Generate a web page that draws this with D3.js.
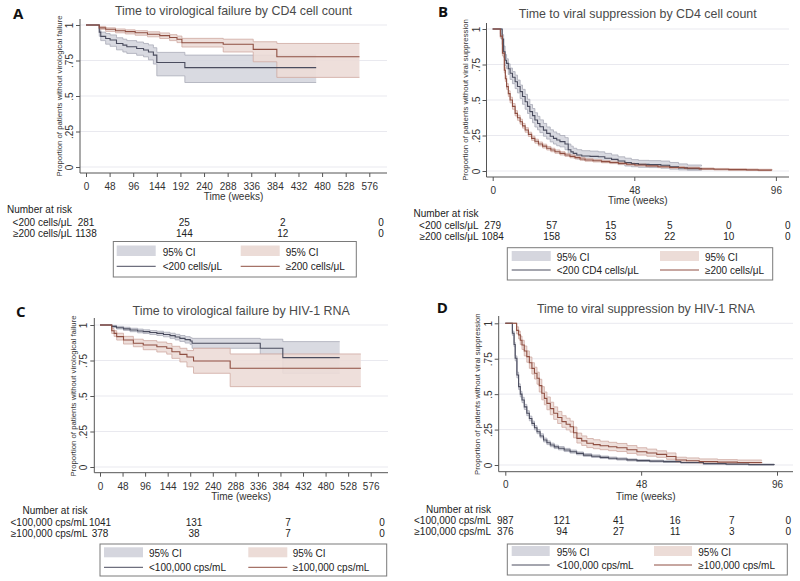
<!DOCTYPE html>
<html><head><meta charset="utf-8">
<script src="https://cdn.jsdelivr.net/npm/d3@7"></script>
<style>body{margin:0;background:#fff}svg{display:block}</style>
</head><body><svg id="c" width="800" height="581"></svg>
<script>
// ---------- DATA: [time, survival, lower95, upper95] ----------
const A_lt200 = [[0,1,1,1],[27,0.95,0.92,0.97],[30,0.92,0.89,0.95],[40,0.905,0.865,0.94],[49,0.894,0.85,0.93],[62,0.87,0.825,0.91],[75,0.858,0.81,0.9],[83,0.847,0.8,0.89],[103,0.835,0.787,0.88],[117,0.824,0.776,0.87],[127,0.81,0.755,0.86],[137,0.788,0.725,0.84],[144,0.736,0.642,0.807],[201,0.7,0.595,0.788],[468,0.7,0.595,0.788]];
const A_ge200 = [[0,1,1,1],[27,0.98,0.97,0.99],[40,0.97,0.955,0.98],[60,0.96,0.945,0.972],[80,0.953,0.937,0.966],[100,0.945,0.928,0.96],[125,0.935,0.917,0.952],[150,0.925,0.905,0.944],[170,0.912,0.89,0.932],[185,0.9,0.876,0.922],[195,0.875,0.845,0.906],[279,0.864,0.81,0.9],[340,0.828,0.741,0.882],[388,0.776,0.631,0.87],[556,0.776,0.631,0.87]];
const B_lt200 = [[0,1,1,1],[3.2,0.93,0.89,0.96],[3.7,0.84,0.8,0.88],[4.2,0.78,0.74,0.82],[4.7,0.758,0.72,0.79],[5.3,0.72,0.68,0.755],[5.9,0.688,0.645,0.725],[6.7,0.66,0.615,0.7],[7.6,0.629,0.58,0.675],[8.4,0.595,0.55,0.64],[9.3,0.559,0.51,0.605],[10.1,0.525,0.47,0.575],[11,0.488,0.435,0.54],[11.8,0.455,0.405,0.505],[12.6,0.418,0.37,0.468],[13.5,0.39,0.34,0.44],[14.3,0.359,0.31,0.41],[15.2,0.335,0.29,0.385],[16,0.312,0.27,0.36],[17.2,0.288,0.245,0.335],[18.3,0.265,0.225,0.31],[19.5,0.245,0.205,0.29],[20.6,0.23,0.19,0.275],[21.7,0.218,0.178,0.262],[22.8,0.207,0.17,0.25],[24.5,0.19,0.15,0.235],[25.6,0.15,0.12,0.19],[26.5,0.135,0.105,0.175],[27.3,0.124,0.093,0.16],[28.5,0.113,0.085,0.15],[30.2,0.106,0.078,0.143],[33,0.103,0.075,0.14],[35.8,0.1,0.072,0.135],[38,0.09,0.062,0.124],[40.3,0.082,0.054,0.113],[42.5,0.07,0.045,0.1],[44.8,0.059,0.035,0.09],[47,0.052,0.03,0.08],[49.4,0.047,0.026,0.075],[53,0.045,0.024,0.073],[57,0.04,0.02,0.07],[60,0.03,0.013,0.06],[63,0.022,0.008,0.05],[66,0.017,0.005,0.042],[70.8,0.012,0.003,0.035]];
const B_ge200 = [[0,1,1,1],[2.6,0.95,0.935,0.965],[3.3,0.83,0.81,0.85],[3.95,0.71,0.69,0.73],[4.3,0.65,0.63,0.67],[4.7,0.594,0.575,0.615],[5.3,0.545,0.525,0.565],[5.9,0.5,0.48,0.52],[6.7,0.455,0.435,0.475],[7.6,0.406,0.388,0.425],[8.4,0.375,0.357,0.393],[9.3,0.347,0.33,0.365],[10.1,0.318,0.302,0.335],[11,0.289,0.273,0.305],[12.1,0.258,0.243,0.273],[13.2,0.23,0.216,0.245],[14.3,0.21,0.196,0.224],[15.5,0.19,0.177,0.204],[16.9,0.175,0.162,0.189],[18.3,0.16,0.148,0.173],[19.7,0.148,0.136,0.16],[21.1,0.136,0.125,0.148],[22.8,0.124,0.113,0.136],[24.5,0.113,0.103,0.124],[26.2,0.103,0.093,0.114],[27.9,0.094,0.085,0.104],[29.6,0.085,0.076,0.095],[31.3,0.077,0.069,0.087],[34,0.072,0.064,0.081],[36.9,0.066,0.058,0.075],[39.7,0.06,0.052,0.069],[42.6,0.054,0.047,0.062],[45.4,0.048,0.041,0.056],[48.2,0.042,0.035,0.05],[52,0.036,0.03,0.044],[56,0.03,0.024,0.037],[60,0.025,0.019,0.032],[65,0.02,0.015,0.027],[70,0.015,0.01,0.021],[75,0.012,0.007,0.018],[80,0.01,0.005,0.016],[86,0.008,0.004,0.014],[90,0.006,0.002,0.012],[94.6,0.005,0.001,0.01]];
const C_lt100k = [[0,1,1,1],[25,0.99,0.983,0.997],[35,0.981,0.972,0.99],[50,0.973,0.962,0.984],[64,0.965,0.953,0.977],[80,0.958,0.945,0.971],[92,0.953,0.94,0.966],[106,0.947,0.933,0.961],[121,0.941,0.926,0.956],[135,0.933,0.917,0.949],[149,0.925,0.906,0.942],[160,0.915,0.895,0.934],[170,0.906,0.884,0.926],[181,0.897,0.873,0.918],[192,0.887,0.862,0.91],[196,0.871,0.836,0.906],[341,0.836,0.793,0.9],[389,0.77,0.66,0.883],[510,0.77,0.66,0.883]];
const C_ge100k = [[0,1,1,1],[25,0.96,0.94,0.975],[30,0.941,0.92,0.96],[35.5,0.918,0.894,0.942],[50,0.894,0.866,0.92],[71,0.871,0.847,0.9],[92,0.859,0.826,0.89],[121,0.847,0.81,0.88],[142,0.836,0.795,0.87],[153,0.812,0.765,0.85],[170,0.793,0.74,0.836],[185,0.775,0.705,0.82],[199,0.746,0.66,0.836],[277,0.695,0.566,0.796],[555,0.695,0.566,0.796]];
const D_lt100k = [[0,1,1,1],[2.5,0.93,0.915,0.945],[3.1,0.85,0.835,0.865],[3.5,0.753,0.735,0.77],[4.1,0.635,0.615,0.655],[4.7,0.553,0.533,0.573],[5.3,0.5,0.48,0.52],[5.9,0.459,0.44,0.478],[6.7,0.41,0.392,0.428],[7.6,0.365,0.348,0.383],[8.5,0.328,0.312,0.345],[9.4,0.294,0.278,0.31],[10.3,0.263,0.248,0.278],[11.2,0.235,0.221,0.25],[12.3,0.205,0.192,0.22],[13.5,0.176,0.163,0.19],[14.7,0.157,0.144,0.17],[15.9,0.141,0.129,0.154],[17.3,0.128,0.116,0.14],[18.8,0.118,0.107,0.13],[20.8,0.106,0.095,0.117],[22.9,0.094,0.084,0.105],[25.2,0.082,0.072,0.092],[27.6,0.07,0.061,0.08],[30.5,0.062,0.053,0.071],[33.5,0.054,0.046,0.063],[36.5,0.048,0.04,0.056],[39.4,0.042,0.035,0.05],[43,0.036,0.029,0.043],[46.5,0.031,0.025,0.038],[51,0.027,0.021,0.034],[55.9,0.024,0.018,0.03],[62,0.018,0.012,0.024],[70,0.01,0.005,0.016],[78,0.006,0.002,0.011],[86,0.003,0,0.007],[95,0.001,0,0.003]];
const D_ge100k = [[0,1,1,1],[4,0.95,0.925,0.975],[4.7,0.918,0.89,0.945],[5.3,0.88,0.85,0.91],[5.9,0.847,0.815,0.88],[6.7,0.805,0.77,0.84],[7.6,0.765,0.725,0.805],[8.5,0.722,0.682,0.762],[9.4,0.682,0.642,0.722],[10.3,0.648,0.607,0.69],[11.2,0.612,0.57,0.655],[12,0.56,0.515,0.605],[12.9,0.506,0.46,0.553],[13.8,0.47,0.425,0.515],[14.7,0.435,0.39,0.48],[15.9,0.398,0.355,0.443],[17.1,0.365,0.322,0.41],[18.5,0.335,0.293,0.378],[20,0.306,0.266,0.348],[21.5,0.288,0.248,0.33],[22.9,0.27,0.232,0.31],[24.1,0.228,0.192,0.268],[25.3,0.188,0.155,0.225],[27,0.17,0.138,0.205],[28.8,0.153,0.123,0.187],[31.1,0.144,0.115,0.178],[33.5,0.136,0.108,0.168],[36.5,0.129,0.101,0.16],[39.4,0.122,0.095,0.152],[43,0.108,0.082,0.137],[46.5,0.094,0.07,0.122],[50,0.085,0.062,0.112],[53.5,0.075,0.054,0.1],[57,0.06,0.04,0.085],[60.3,0.035,0.02,0.055],[64,0.03,0.016,0.05],[68.5,0.024,0.012,0.043],[75,0.02,0.009,0.038],[82,0.018,0.007,0.035],[90.6,0.016,0.006,0.032]];

// at-risk tables
const riskTimesLong = [0, 200, 400, 600];
const riskTimesShort = [0, 20, 40, 60, 80, 100];
const A_riskLt = [281, 25, 2, 0];
const A_riskGe = [1138, 144, 12, 0];
const B_riskLt = [279, 57, 15, 5, 0, 0];
const B_riskGe = [1084, 158, 53, 22, 10, 0];
const C_riskLt = [1041, 131, 7, 0];
const C_riskGe = [378, 38, 7, 0];
const D_riskLt = [987, 121, 41, 16, 7, 0];
const D_riskGe = [376, 94, 27, 11, 3, 0];

// ticks and labels
const xTicksLong = [0,48,96,144,192,240,288,336,384,432,480,528,576];
const xTicksShort = [0,48,96];
const yTickValues = [0,0.25,0.5,0.75,1];
const yTickLabels = ["0",".25",".5",".75","1"];
const titles = ["Time to virological failure by CD4 cell count","Time to viral suppression by CD4 cell count","Time to virological failure by HIV-1 RNA","Time to viral suppression by HIV-1 RNA"];
const yTitles = ["Proportion of patients without virological failure","Proportion of patients without viral suppression"];
const cd4Groups = ["<200 cells/μL","≥200 cells/μL"];
const cd4LegendB = ["<200 CD4 cells/μL","≥200 cells/μL"];
const rnaGroups = ["<100,000 cps/mL","≥100,000 cps/mL"];

// ---------- STYLE ----------
const FONT = "'Liberation Sans', Arial, Helvetica, sans-serif";
const COL = {
  darkLine:"#4a4c5e", darkBand:"#d5d6de", darkEdge:"#a9abb8",
  brownLine:"#8f4f42", brownBand:"#ecdcd7", brownEdge:"#cfaaa1",
  grid:"#e9e9ef", axis:"#555", text:"#333", title:"#4a4a4a"
};

const panels = [
 {data:[A_lt200,A_ge200], xMax:576, xr:[86,369.3], yr:[167,25], axisX:80, axisY:173, topY:19, rightX:387,
  label:"A", lx:13, ly:18.7, title:titles[0], titleY:15, yTitle:yTitles[0], xTicks:xTicksLong,
  riskT:riskTimesLong, risk:[A_riskLt,A_riskGe], rowNames:cd4Groups, legNames:cd4Groups,
  tickBase:190, xTitleBase:200, narBase:213, row1:225.5, row2:236.5, narRight:72,
  leg:{x:113.3,y:241.5,w:243,h:35.5,s1:116.7,s2:240.7,sy:245.5,sw:39,sh:10.5,t1:162.7,t2:285.7,rb1:256,ly:266.3,rb2:269.8}},
 {data:[B_lt200,B_ge200], xMax:96, xr:[492.7,775.9], yr:[171,29], axisX:486.5, axisY:177, topY:23, rightX:789,
  label:"B", lx:438, ly:16.7, title:titles[1], titleY:18.3, yTitle:yTitles[1], xTicks:xTicksShort,
  riskT:riskTimesShort, risk:[B_riskLt,B_riskGe], rowNames:cd4Groups, legNames:cd4LegendB,
  tickBase:193.5, xTitleBase:204, narBase:216.5, row1:229, row2:240, narRight:478.5,
  leg:{x:507.3,y:247.7,w:265.4,h:32.3,s1:511.7,s2:660,sy:251,sw:39,sh:10,t1:556.7,t2:705,rb1:260.5,ly:270,rb2:273.5}},
 {data:[C_lt100k,C_ge100k], xMax:576, xr:[100,370.7], yr:[467,325], axisX:94.3, axisY:472.7, topY:318, rightX:388,
  label:"C", lx:16, ly:317, title:titles[2], titleY:315, yTitle:yTitles[0], xTicks:xTicksLong,
  riskT:riskTimesLong, risk:[C_riskLt,C_riskGe], rowNames:rnaGroups, legNames:rnaGroups,
  tickBase:490, xTitleBase:500, narBase:514, row1:525.5, row2:536.5, narRight:87.5,
  leg:{x:100,y:544,w:286.7,h:32,s1:104,s2:248.3,sy:547.3,sw:39,sh:10,t1:149,t2:292.7,rb1:556.8,ly:567.3,rb2:570.7}},
 {data:[D_lt100k,D_ge100k], xMax:96, xr:[505.3,777], yr:[465,323.3], axisX:498.7, axisY:471.7, topY:316, rightX:793,
  label:"D", lx:436.7, ly:313, title:titles[3], titleY:312.7, yTitle:yTitles[1], xTicks:xTicksShort,
  riskT:riskTimesShort, risk:[D_riskLt,D_riskGe], rowNames:rnaGroups, legNames:rnaGroups,
  tickBase:488.5, xTitleBase:499.5, narBase:513, row1:524, row2:535, narRight:491,
  leg:{x:507.3,y:544,w:280,h:31,s1:511.7,s2:654,sy:546,sw:38,sh:10,t1:556.7,t2:698.3,rb1:555.5,ly:565,rb2:569}}
];

const svg = d3.select("#c").style("font-family", FONT);

panels.forEach(p => {
  const g = svg.append("g");
  const x = d3.scaleLinear().domain([0, p.xMax]).range(p.xr);
  const y = d3.scaleLinear().domain([0, 1]).range(p.yr);

  // gridlines
  g.selectAll(".grid").data(yTickValues).enter().append("line")
    .attr("x1", p.axisX).attr("x2", p.rightX)
    .attr("y1", d => y(d)).attr("y2", d => y(d))
    .attr("stroke", COL.grid).attr("stroke-width", 1);

  const rows = p.data.map(arr => arr.map(d => ({t:d[0], s:d[1], lo:d[2], hi:d[3]})));
  const area = d3.area().curve(d3.curveStepAfter).x(d => x(d.t)).y0(d => y(d.lo)).y1(d => y(d.hi));
  const lineS = d3.line().curve(d3.curveStepAfter).x(d => x(d.t)).y(d => y(d.s));
  const lineLo = d3.line().curve(d3.curveStepAfter).x(d => x(d.t)).y(d => y(d.lo));
  const lineHi = d3.line().curve(d3.curveStepAfter).x(d => x(d.t)).y(d => y(d.hi));
  const bands = [COL.darkBand, COL.brownBand], edges = [COL.darkEdge, COL.brownEdge], lines = [COL.darkLine, COL.brownLine];

  rows.forEach((r, i) => {
    g.append("path").datum(r).attr("d", area).attr("fill", bands[i]).attr("fill-opacity", 0.9);
    g.append("path").datum(r).attr("d", lineLo).attr("fill", "none").attr("stroke", edges[i]).attr("stroke-width", 0.8);
    g.append("path").datum(r).attr("d", lineHi).attr("fill", "none").attr("stroke", edges[i]).attr("stroke-width", 0.8);
  });
  rows.forEach((r, i) => {
    g.append("path").datum(r).attr("d", lineS).attr("fill", "none").attr("stroke", lines[i]).attr("stroke-width", 1.1);
  });

  // axes
  const ya = g.append("g").attr("transform", `translate(${p.axisX},0)`)
    .call(d3.axisLeft(y).tickValues(yTickValues).tickFormat((d, i) => yTickLabels[i]).tickSize(4));
  ya.select(".domain").remove();
  ya.selectAll(".tick line").attr("stroke", COL.axis);
  ya.selectAll(".tick text").attr("transform", "rotate(-90)").attr("x", 0).attr("y", -7).attr("dy", 0)
    .attr("text-anchor", "middle").attr("fill", COL.text).style("font-size", "10px").style("font-family", FONT);
  g.append("line").attr("x1", p.axisX).attr("x2", p.axisX).attr("y1", p.topY).attr("y2", p.axisY).attr("stroke", COL.axis);

  const xa = g.append("g").attr("transform", `translate(0,${p.axisY})`)
    .call(d3.axisBottom(x).tickValues(p.xTicks).tickFormat(d3.format("d")).tickSize(4));
  xa.select(".domain").remove();
  xa.selectAll(".tick line").attr("stroke", COL.axis);
  xa.selectAll(".tick text").attr("y", p.tickBase - p.axisY).attr("dy", 0)
    .attr("fill", COL.text).style("font-size", "10px").style("font-family", FONT);
  g.append("line").attr("x1", p.axisX).attr("x2", p.rightX).attr("y1", p.axisY).attr("y2", p.axisY).attr("stroke", COL.axis);

  const cx = (p.axisX + p.rightX) / 2;
  // titles
  g.append("text").attr("x", cx).attr("y", p.titleY).attr("text-anchor", "middle")
    .attr("fill", COL.title).style("font-size", "12.4px").text(p.title);
  g.append("text").attr("x", p.lx).attr("y", p.ly).attr("fill", "#111")
    .style("font-size", "15px").style("font-weight", "bold").style("font-family", "'Open Sans', 'Liberation Sans', Arial, sans-serif").text(p.label);
  g.append("text").attr("x", cx).attr("y", p.xTitleBase).attr("text-anchor", "middle")
    .attr("fill", COL.text).style("font-size", "10px").text("Time (weeks)");
  const ymid = (p.yr[0] + p.yr[1]) / 2;
  g.append("text").attr("transform", `translate(${p.axisX - 18.5},${ymid}) rotate(-90)`)
    .attr("text-anchor", "middle").attr("fill", COL.text).style("font-size", "7.8px").text(p.yTitle);

  // number at risk
  g.append("text").attr("x", p.narRight).attr("y", p.narBase).attr("text-anchor", "end")
    .attr("fill", "#222").style("font-size", "10px").text("Number at risk");
  [p.row1, p.row2].forEach((yy, i) => {
    g.append("text").attr("x", p.narRight).attr("y", yy).attr("text-anchor", "end")
      .attr("fill", "#222").style("font-size", "10px").text(p.rowNames[i]);
    g.selectAll(null).data(p.risk[i]).enter().append("text")
      .attr("x", (d, j) => x(p.riskT[j])).attr("y", yy).attr("text-anchor", "middle")
      .attr("fill", "#222").style("font-size", "10px").text(d => d);
  });

  // legend
  const L = p.leg;
  g.append("rect").attr("x", L.x).attr("y", L.y).attr("width", L.w).attr("height", L.h)
    .attr("fill", "#fff").attr("stroke", "#7a7a7a").attr("stroke-width", 1);
  [[L.s1, L.t1, 0], [L.s2, L.t2, 1]].forEach(([sx, tx, i]) => {
    g.append("rect").attr("x", sx).attr("y", L.sy).attr("width", L.sw).attr("height", L.sh).attr("fill", bands[i]);
    g.append("text").attr("x", tx).attr("y", L.rb1).attr("fill", "#222").style("font-size", "10px").text("95% CI");
    g.append("line").attr("x1", sx).attr("x2", sx + L.sw).attr("y1", L.ly).attr("y2", L.ly)
      .attr("stroke", lines[i]).attr("stroke-width", 1);
    g.append("text").attr("x", tx).attr("y", L.rb2).attr("fill", "#222").style("font-size", "10px").text(p.legNames[i]);
  });
});
</script></body></html>
